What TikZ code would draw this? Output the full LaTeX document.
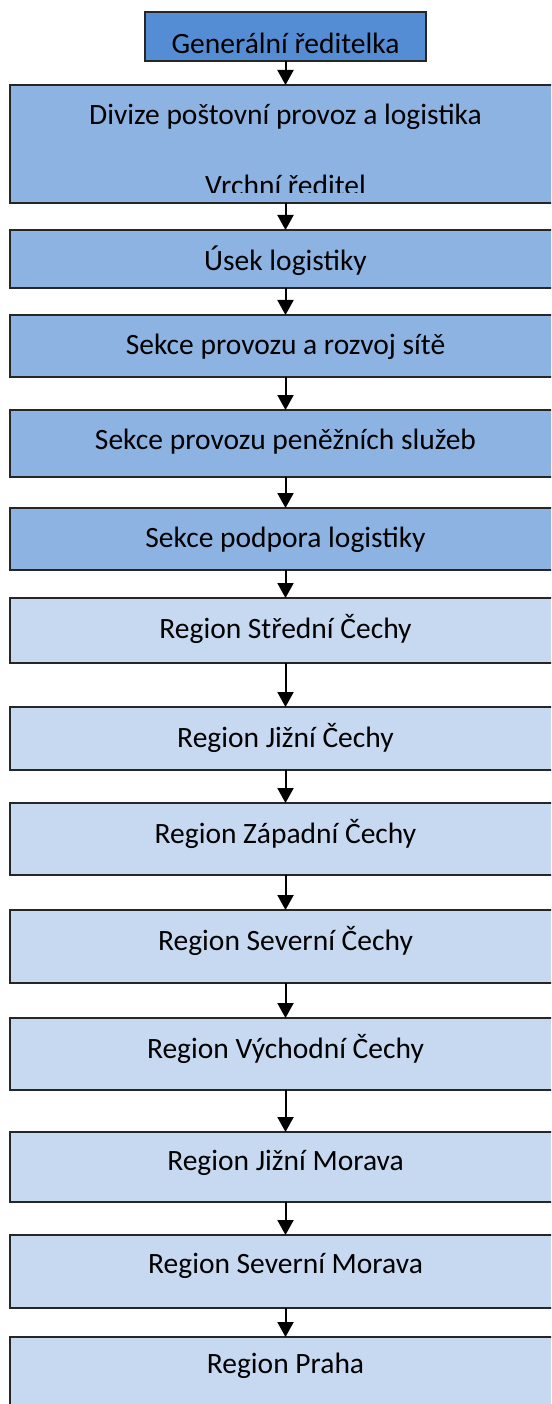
\documentclass[tikz,border=0pt]{standalone}
\usepackage{fontspec}
\setmainfont{Carlito}
\usetikzlibrary{arrows.meta}
\definecolor{topblue}{RGB}{84,141,212}
\definecolor{midblue}{RGB}{141,179,226}
\definecolor{lightblue}{RGB}{198,217,241}
\tikzset{
  box/.style={draw=black!85, line width=1.5pt, inner sep=0pt, outer sep=0pt, anchor=north west},
  widebox/.style={box, minimum width=551pt},
  lbl/.style={font=\fontsize{29.5}{35}\selectfont, inner sep=0pt, anchor=center},
  link/.style={line width=2pt, -{Triangle[width=16pt,length=15pt]}},
}
\begin{document}
\begin{tikzpicture}[x=1pt,y=-1pt]
\useasboundingbox (0,0) rectangle (551,1404);
\begin{scope}
\clip (0,0) rectangle (551,1404);

% boxes of the chart
\node[box, fill=topblue, minimum width=281pt, minimum height=49pt] (gr) at (145,12) {};
\node[widebox, fill=midblue, minimum height=118pt] (divize) at (10,85) {};
\node[widebox, fill=midblue, minimum height=58pt] (usek) at (10,230) {};
\node[widebox, fill=midblue, minimum height=62pt] (sprov) at (10,315) {};
\node[widebox, fill=midblue, minimum height=67pt] (speng) at (10,410) {};
\node[widebox, fill=midblue, minimum height=62pt] (spod) at (10,508) {};
\node[widebox, fill=lightblue, minimum height=65pt] (rstc) at (10,598) {};
\node[widebox, fill=lightblue, minimum height=63pt] (rjc) at (10,707) {};
\node[widebox, fill=lightblue, minimum height=72pt] (rzc) at (10,803) {};
\node[widebox, fill=lightblue, minimum height=73pt] (rsc) at (10,910) {};
\node[widebox, fill=lightblue, minimum height=72pt] (rvc) at (10,1018) {};
\node[widebox, fill=lightblue, minimum height=70pt] (rjm) at (10,1132) {};
\node[widebox, fill=lightblue, minimum height=73pt] (rsm) at (10,1235) {};
\node[widebox, fill=lightblue, minimum height=100pt] (rpr) at (10,1337) {};

% labels, set near the top of each box
\node[lbl] (gr-t) at ([yshift=-31pt]gr.north) {Generální ředitelka};
\node[lbl] (divize-t) at ([yshift=-32pt]divize.north) {Divize poštovní provoz a logistika};
\begin{scope}
\clip (divize.north west) rectangle ([yshift=10pt]divize.south east);
\node[lbl] (divize-t2) at ([yshift=-100pt]divize.north) {Vrchní ředitel};
\end{scope}
\node[lbl] (usek-t) at ([yshift=-31pt]usek.north) {Úsek logistiky};
\node[lbl] (sprov-t) at ([yshift=-32pt]sprov.north) {Sekce provozu a rozvoj sítě};
\node[lbl] (speng-t) at ([yshift=-32pt]speng.north) {Sekce provozu peněžních služeb};
\node[lbl] (spod-t) at ([yshift=-32pt]spod.north) {Sekce podpora logistiky};
\node[lbl] (rstc-t) at ([yshift=-31pt]rstc.north) {Region Střední Čechy};
\node[lbl] (rjc-t) at ([yshift=-31pt]rjc.north) {Region Jižní Čechy};
\node[lbl] (rzc-t) at ([yshift=-31pt]rzc.north) {Region Západní Čechy};
\node[lbl] (rsc-t) at ([yshift=-31pt]rsc.north) {Region Severní Čechy};
\node[lbl] (rvc-t) at ([yshift=-31pt]rvc.north) {Region Východní Čechy};
\node[lbl] (rjm-t) at ([yshift=-31pt]rjm.north) {Region Jižní Morava};
\node[lbl] (rsm-t) at ([yshift=-31pt]rsm.north) {Region Severní Morava};
\node[lbl] (rpr-t) at ([yshift=-29pt]rpr.north) {Region Praha};

% connectors
\foreach \a/\b in {gr/divize, divize/usek, usek/sprov, sprov/speng, speng/spod,
  spod/rstc, rstc/rjc, rjc/rzc, rzc/rsc, rsc/rvc, rvc/rjm, rjm/rsm, rsm/rpr}
  \draw[link] (\a.south) -- (\b.north);
\end{scope}
\end{tikzpicture}
\end{document}
